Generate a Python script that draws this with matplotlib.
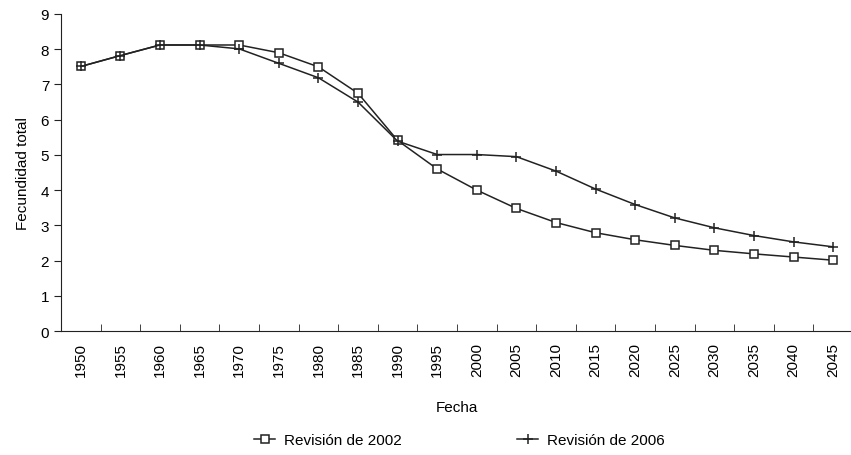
import numpy as np
import matplotlib
matplotlib.use("Agg")
import matplotlib.pyplot as plt

plt.rcParams['font.family'] = ['Liberation Sans', 'DejaVu Sans']

years = [1950, 1955, 1960, 1965, 1970, 1975, 1980, 1985, 1990, 1995,
         2000, 2005, 2010, 2015, 2020, 2025, 2030, 2035, 2040, 2045]
rev_2002 = [7.51, 7.82, 8.12, 8.12, 8.12, 7.90, 7.50, 6.75, 5.41, 4.60,
            4.00, 3.48, 3.08, 2.79, 2.59, 2.43, 2.29, 2.19, 2.10, 2.01]
rev_2006 = [7.51, 7.82, 8.12, 8.12, 8.01, 7.60, 7.19, 6.50, 5.39, 5.01,
            5.01, 4.95, 4.54, 4.03, 3.59, 3.21, 2.93, 2.71, 2.53, 2.39]

col = '#222222'
fig = plt.figure(figsize=(8.51, 4.56), dpi=100)
ax = fig.add_axes([61/851, 1-332/456, (853-61)/851, (332-15)/456])

x = np.arange(len(years))
ax.plot(x, rev_2002, color=col, lw=1.1, marker='s', ms=5.5, mfc='white',
        mec=col, mew=1.1, label='Revisión de 2002')
ax.plot(x, rev_2006, color=col, lw=1.1, marker='+', ms=7, mew=1.1,
        label='Revisión de 2006')

ax.set_xlim(-0.5, len(years) - 0.5)
ax.set_ylim(0, 9)
ax.set_yticks(range(0, 10))
ax.set_xticks(x)
ax.set_xticklabels([str(y) for y in years], rotation=90)
ax.set_xticks(np.arange(-0.5, len(years)), minor=True)
ax.tick_params(axis='x', which='major', length=0, pad=8, labelsize=11)
ax.tick_params(axis='x', which='minor', length=5, direction='in', color=col)
ax.tick_params(axis='y', length=5, direction='out', labelsize=11, color=col)
for s in ['top', 'right']:
    ax.spines[s].set_visible(False)
for s in ['left', 'bottom']:
    ax.spines[s].set_color(col)
ax.set_ylabel('Fecundidad total', fontsize=11, labelpad=8)
ax.set_xlabel('Fecha', fontsize=11, labelpad=17)

fig.legend(loc='center', bbox_to_anchor=(0.54, 1 - 441/456),
           ncol=2, frameon=False, fontsize=11, handlelength=1.4,
           columnspacing=7.5, handletextpad=0.6)

fig.savefig('out.png', dpi=100)
